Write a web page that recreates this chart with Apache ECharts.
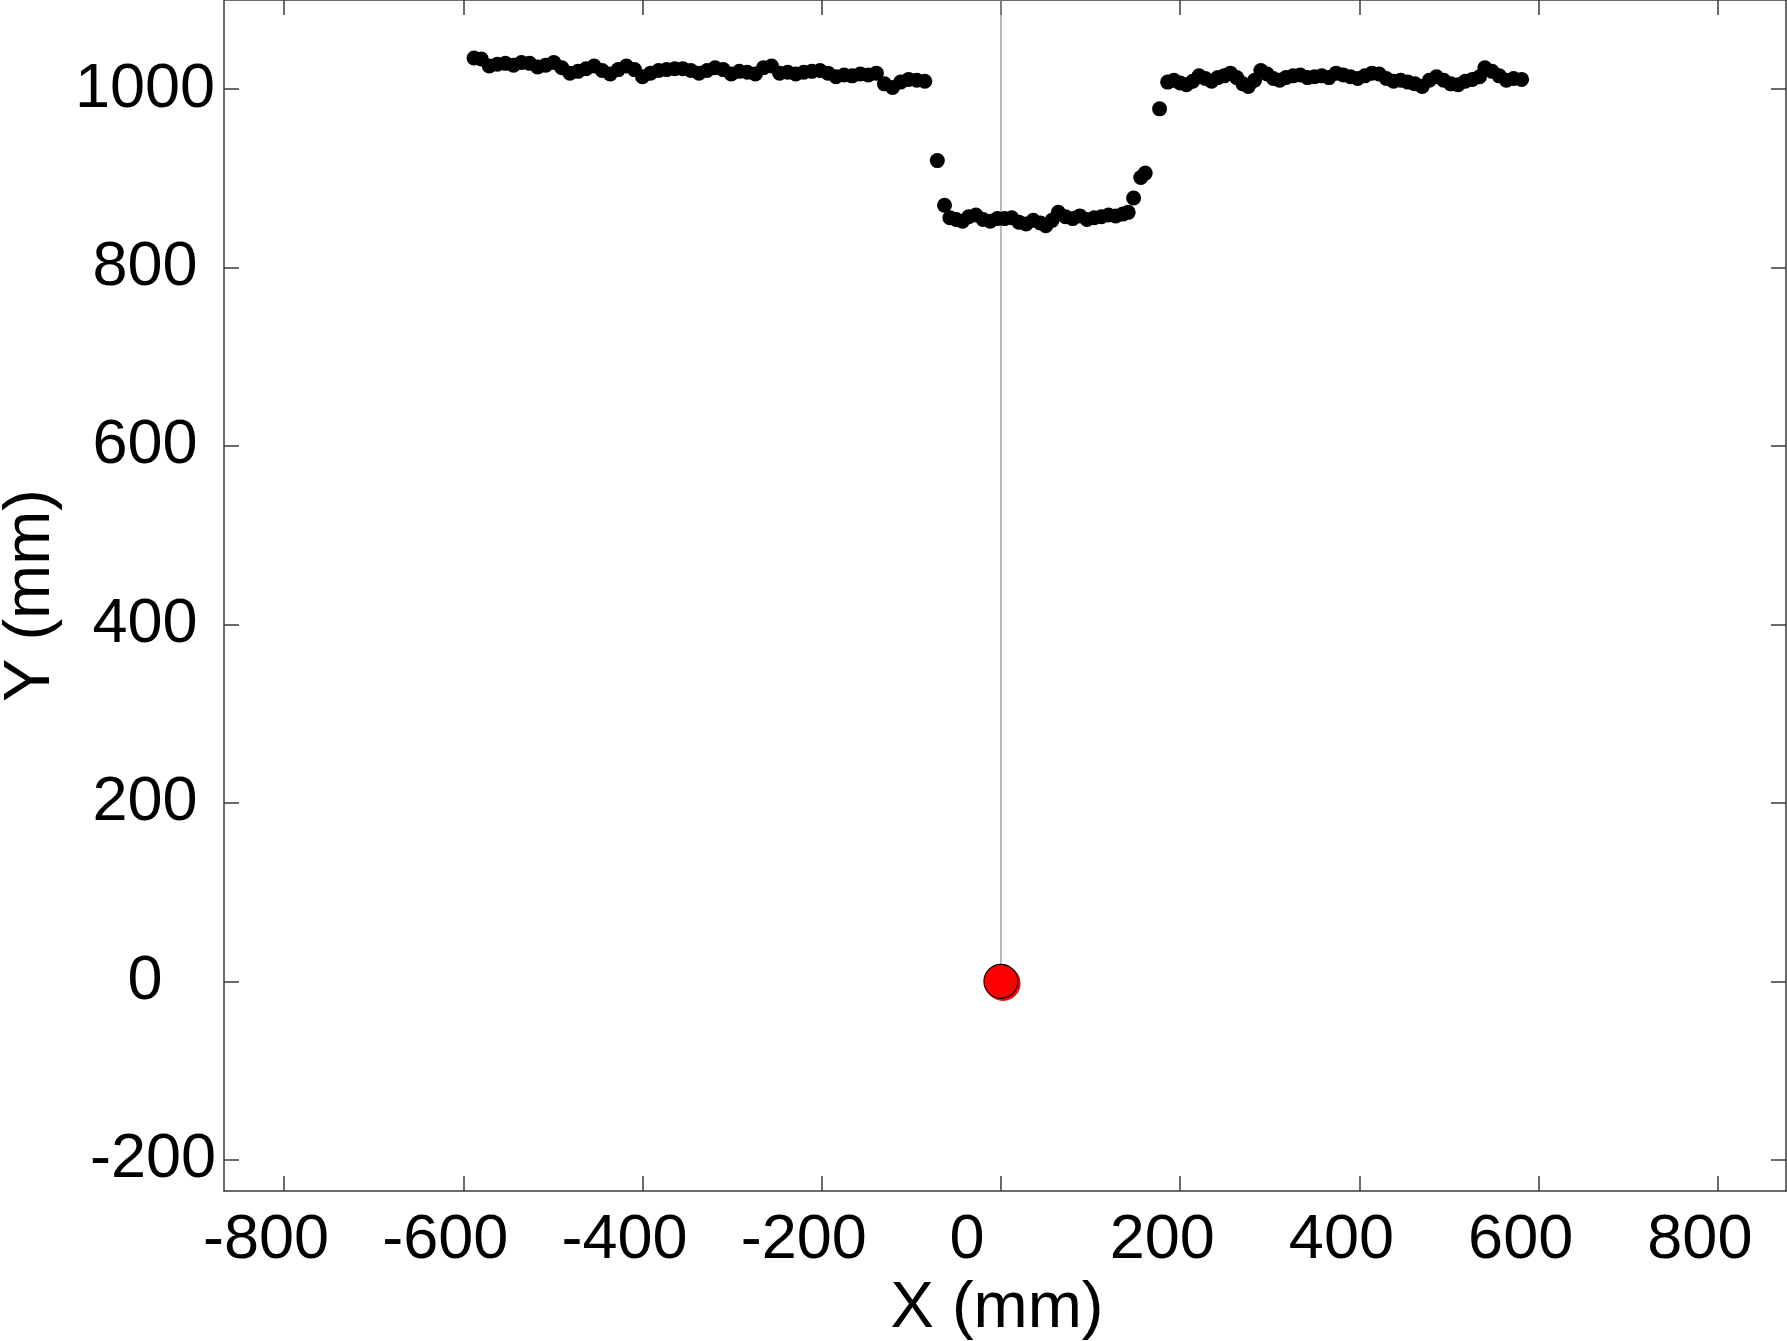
<!DOCTYPE html>
<html><head><meta charset="utf-8">
<script src="https://cdn.jsdelivr.net/npm/echarts@6/dist/echarts.min.js"></script>
<style>html,body{margin:0;padding:0;background:#fff}#c{width:1787px;height:1341px}</style>
</head><body><div id="c"></div>
<script>
const xTicks = [-800, -600, -400, -200, 0, 200, 400, 600, 800];
const yTicks = [-200, 0, 200, 400, 600, 800, 1000];

const scanX = [
 -588,-580,-571,-562,-553,-544,-535,-526,-517,-508,-499,-490,-481,-472,-463,-454,-445,-436,-427,-418,
 -409,-400,-391,-382,-373,-364,-355,-346,-337,-328,-319,-310,-301,-292,-283,-274,-265,-256,-247,-238,
 -229,-220,-211,-202,-193,-184,-175,-166,-157,-148,-139,-130,-121,-112,-103,-94,-85,
 -71,-63,-57,-50,-43,-36,-28,-20,-12,-4,4,12,20,28,36,44,50,57,64,72,80,88,96,104,112,120,128,136,142,
 148,156,161,177,
 186,193,200,207,214,221,228,235,242,249,256,263,270,276,283,290,297,304,311,318,326,334,342,350,358,
 366,374,382,390,398,406,414,422,430,438,446,454,462,470,478,486,494,502,510,518,526,534,540,548,556,564,572,581
];
const scanY = [
 1035,1034,1026,1028,1029,1027,1030,1029,1025,1027,1030,1024,1018,1020,1023,1026,1021,1017,1022,1026,
 1022,1014,1018,1021,1022,1023,1023,1021,1018,1021,1024,1022,1017,1020,1019,1017,1024,1026,1018,1019,
 1017,1019,1020,1021,1018,1014,1016,1015,1017,1016,1018,1006,1002,1008,1011,1010,1009,
 920,870,856,854,852,857,859,854,852,855,855,856,851,849,853,850,847,853,862,857,855,858,854,856,857,859,858,860,862,
 878,901,906,978,
 1008,1010,1007,1005,1009,1015,1012,1009,1013,1015,1018,1013,1006,1003,1010,1021,1017,1012,1010,1013,1015,1016,1013,1014,1015,
 1013,1018,1016,1014,1012,1015,1018,1017,1012,1009,1010,1008,1006,1003,1010,1014,1010,1006,1005,1009,1011,1014,1024,1020,1015,1010,1012,1011
];
const robotX = [0];
const robotY = [0];
const beamX = [0, 0];
const beamY = [0, 1100];

const xMin = -867, xMax = 876, yMin = -235, yMax = 1100;
const FONT = "'Liberation Sans', Arial, sans-serif";
const axisCol = '#3a3a3a';

const chart = echarts.init(document.getElementById('c'), null, {renderer: 'canvas'});

const baseX = {
  type: 'value', min: xMin, max: xMax, splitLine: {show: false},
  axisLine: {show: true, onZero: false, lineStyle: {color: axisCol, width: 1.5}},
  axisTick: {show: true, inside: true, length: 15, customValues: xTicks, lineStyle: {color: axisCol, width: 1.5}}
};
const baseY = {
  type: 'value', min: yMin, max: yMax, splitLine: {show: false},
  axisLine: {show: true, onZero: false, lineStyle: {color: axisCol, width: 1.5}},
  axisTick: {show: true, inside: true, length: 15, customValues: yTicks, lineStyle: {color: axisCol, width: 1.5}}
};

chart.setOption({
  animation: false,
  backgroundColor: '#fff',
  grid: {left: 224, right: 1, top: 0, bottom: 150, containLabel: false, outerBoundsMode: 'none'},
  xAxis: [
    Object.assign({}, baseX, {position: 'bottom',
      axisLabel: {customValues: xTicks, margin: 18, color: '#000', fontSize: 63, fontFamily: FONT,
        padding: [0, 36, 0, 0],
        formatter: v => v === 0 ? '{z|0}' : String(v),
        rich: {z: {color: '#000', fontSize: 63, fontFamily: FONT, padding: [0, 32, 0, 0]}}},
      name: 'X (mm)', nameLocation: 'middle', nameGap: 84,
      nameTextStyle: {color: '#000', fontSize: 65, fontFamily: FONT, padding: [0, 16, 0, 0]}}),
    Object.assign({}, baseX, {position: 'top', axisLabel: {show: false}})
  ],
  yAxis: [
    Object.assign({}, baseY, {position: 'left',
      axisLabel: {customValues: yTicks, margin: 79, align: 'center', color: '#000', fontSize: 63, fontFamily: FONT,
        formatter: v => v < 0 ? '{n|' + v + '}' : String(v),
        rich: {n: {color: '#000', fontSize: 63, fontFamily: FONT, padding: [0, 0, 0, 16]}}},
      name: 'Y (mm)', nameLocation: 'middle', nameGap: 154,
      nameTextStyle: {color: '#000', fontSize: 65, fontFamily: FONT}}),
    Object.assign({}, baseY, {position: 'right', axisLabel: {show: false}})
  ],
  series: [
    {type: 'line', xAxisIndex: 0, yAxisIndex: 0, data: beamX.map((x, i) => [x, beamY[i]]),
     symbol: 'none', lineStyle: {color: '#8c8c8c', width: 1.2}, silent: true, z: 1},
    {type: 'scatter', xAxisIndex: 0, yAxisIndex: 0, data: scanX.map((x, i) => [x, scanY[i]]),
     symbol: 'circle', symbolSize: 15, itemStyle: {color: '#000', opacity: 1}, z: 2},
    {type: 'scatter', xAxisIndex: 0, yAxisIndex: 0, data: robotX.map((x, i) => [x, robotY[i]]),
     symbol: 'circle', symbolSize: 34, itemStyle: {color: '#ff0000', borderColor: '#000', borderWidth: 1.2, opacity: 1,
       shadowColor: '#ff0000', shadowBlur: 0, shadowOffsetX: 2, shadowOffsetY: 2}, z: 3}
  ]
});
</script>
</body></html>
